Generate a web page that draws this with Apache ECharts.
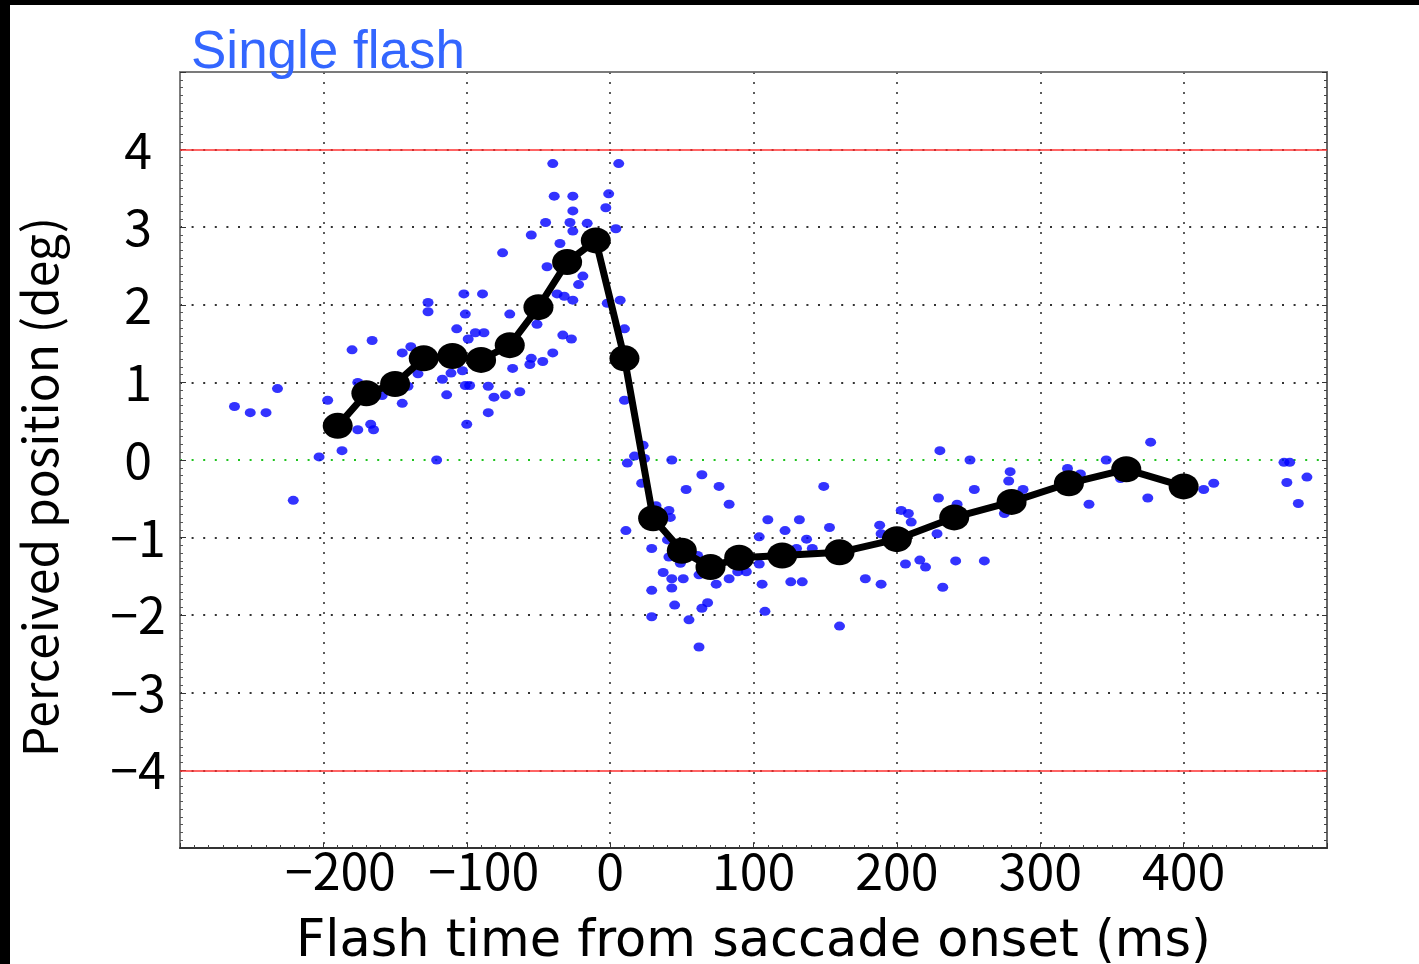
<!DOCTYPE html>
<html>
<head>
<meta charset="utf-8">
<script src="https://cdn.jsdelivr.net/npm/echarts@6/dist/echarts.min.js"></script>
<style>
html,body{margin:0;padding:0;background:#fff;}
#chart{width:1419px;height:964px;}
</style>
</head>
<body>
<div id="chart"></div>
<script>
// ---- Data ----
const titleText = 'Single flash';
const xAxisTitle = 'Flash time from saccade onset (ms)';
const yAxisTitle = 'Perceived position (deg)';

// Mean curve (black)
const meanX = [-190,-170,-150,-130,-110,-90,-70,-50,-30,-10,10,30,50,70,90,120,160,200,240,280,320,360,400];
const meanY = [0.44,0.86,0.98,1.31,1.34,1.29,1.48,1.97,2.55,2.83,1.31,-0.75,-1.17,-1.38,-1.26,-1.23,-1.19,-1.02,-0.74,-0.54,-0.30,-0.12,-0.34];

// Individual trials (blue)
const trialX = [
  -262,-251,-240,-232,-221,-203,-197,-187,-176,-167,-165,-176,-180,-166,-159,-145,-139,-145,-134,-141,
  -127,-127,-121,-117,-114,-111,-107,-103,-102,-101,-99,-94,-88,-101,-98,-100,-89,-85,-81,-73,-85,-70,-68,-63,
  -40,-39,-26,-26,-45,-28,-26,-16,-55,-35,-75,-44,-19,-22,-37,-32,-26,-51,-33,-27,-40,-55,-56,-47,
  -1,-3,6,4,7,-2,10,10,
  23,17,24,12,43,22,64,53,76,83,32,41,42,11,29,40,41,49,37,43,43,51,61,62,74,29,29,45,55,64,68,62,
  83,89,95,104,104,106,108,110,122,132,137,130,141,126,134,149,153,160,
  178,189,188,189,203,208,210,206,216,220,230,229,242,228,232,241,261,251,254,279,278,288,275,
  319,328,334,346,356,377,375,414,421,470,474,472,486,480
];
const trialY = [
  0.69,0.61,0.61,0.92,-0.52,0.04,0.77,0.12,0.39,0.46,0.39,1.00,1.42,1.54,0.83,1.38,1.46,0.73,1.11,0.95,
  2.03,1.91,0.00,1.04,0.84,1.12,1.69,1.15,2.14,1.88,1.56,1.64,1.64,0.96,0.96,0.46,2.14,0.95,0.81,0.84,0.61,1.88,1.18,0.88,
  3.82,3.40,3.40,3.21,3.06,3.06,2.95,3.05,2.90,2.79,2.67,2.49,2.37,2.26,2.14,2.11,2.06,1.75,1.61,1.56,1.38,1.31,1.23,1.27,
  3.43,3.25,3.82,2.98,2.06,2.02,1.69,0.77,
  0.19,0.05,0.02,-0.04,0.00,-0.30,-0.19,-0.38,-0.34,-0.57,-0.59,-0.65,-0.74,-0.91,-1.14,-1.03,-1.25,-1.33,-1.45,-1.53,-1.65,-1.53,-1.23,-1.48,-1.60,-1.68,-2.02,-1.87,-2.06,-1.91,-1.84,-2.41,
  -1.53,-1.44,-1.44,-0.99,-1.34,-1.60,-1.95,-0.77,-0.91,-0.77,-1.02,-1.14,-1.14,-1.57,-1.57,-0.34,-0.87,-2.14,
  -1.53,-1.60,-0.84,-0.95,-0.65,-0.69,-0.80,-1.34,-1.29,-1.38,0.12,-0.49,-0.57,-0.95,-1.64,-1.30,-1.30,0.00,-0.38,-0.15,-0.27,-0.38,-0.69,
  -0.11,-0.18,-0.57,0.00,-0.24,0.23,-0.49,-0.38,-0.30,-0.03,-0.03,-0.29,-0.22,-0.56
];

// Axis settings
const xMin = -300, xMax = 500, xStep = 100;
const yMin = -5, yMax = 5, yStep = 1;
const limitLines = [4, -4];

const trialData = trialX.map((x, i) => [x, trialY[i]]);
const meanData = meanX.map((x, i) => [x, meanY[i]]);

const minus = v => (v < 0 ? '\u2212' + Math.abs(v) : String(v));
const xFmt = v => (v < 0 ? '{n|' + minus(v) + '}' : '{p|' + v + '}');
const labelFont = '"Noto Sans CJK JP", "Noto Sans", sans-serif';

// splitLine colours for y: -5..5 ; 0 is green, edges hidden
const yLineColors = [];
for (let v = yMin; v <= yMax; v += yStep) {
  if (v === yMin || v === yMax) yLineColors.push('rgba(0,0,0,0)');
  else if (v === 0) yLineColors.push('#1fc41f');
  else yLineColors.push('#333');
}
const xLineColors = [];
for (let v = xMin; v <= xMax; v += xStep) {
  if (v === xMin || v === xMax) xLineColors.push('rgba(0,0,0,0)');
  else xLineColors.push('#333');
}

const chart = echarts.init(document.getElementById('chart'), null, {renderer: 'canvas'});
chart.setOption({
  animation: false,
  backgroundColor: '#fff',
  title: {
    text: titleText,
    left: 186, top: 22,
    textStyle: {color: '#3366ff', fontSize: 53, fontWeight: 'normal', fontFamily: '"Liberation Sans", Arial, sans-serif'}
  },
  graphic: [
    {type: 'rect', left: 0, top: 0, shape: {width: 1419, height: 5}, style: {fill: '#000'}, silent: true},
    {type: 'rect', left: 0, top: 0, shape: {width: 10, height: 964}, style: {fill: '#000'}, silent: true}
  ],
  grid: {left: 180, top: 72, right: 92, bottom: 116, outerBoundsMode: 'none', containLabel: false,
    show: true, borderColor: '#666', borderWidth: 1.5, backgroundColor: 'transparent'},
  xAxis: [{
    type: 'value', min: xMin, max: xMax, interval: xStep,
    axisLine: {show: true, onZero: false, lineStyle: {color: '#333', width: 2}},
    axisTick: {show: true, inside: true, length: 5, lineStyle: {color: '#333'}},
    minorTick: {show: true, splitNumber: 10, length: 3, lineStyle: {color: '#444'}},
    axisLabel: {
      showMinLabel: false, showMaxLabel: false, formatter: xFmt, margin: -2,
      rich: {
        n: {fontSize: 50, color: '#000', fontFamily: labelFont, padding: [0, 0, 0, 34]},
        p: {fontSize: 50, color: '#000', fontFamily: labelFont}
      }
    },
    splitLine: {show: true, lineStyle: {color: xLineColors, width: 1.6, type: [2, 8]}},
    name: xAxisTitle, nameLocation: 'middle', nameGap: 69,
    nameTextStyle: {fontSize: 51, color: '#000', fontFamily: '"DejaVu Sans", sans-serif'}
  }, {
    type: 'value', min: xMin, max: xMax, interval: xStep, position: 'top',
    axisLine: {show: true, onZero: false, lineStyle: {color: '#777', width: 1.5}},
    axisTick: {show: false},
    minorTick: {show: false},
    axisLabel: {show: false}, splitLine: {show: false}
  }],
  yAxis: [{
    type: 'value', min: yMin, max: yMax, interval: yStep,
    axisLine: {show: true, onZero: false, lineStyle: {color: '#777', width: 1.5}},
    axisTick: {show: true, inside: true, length: 6, lineStyle: {color: '#333'}},
    minorTick: {show: true, splitNumber: 10, length: 3, lineStyle: {color: '#555'}},
    axisLabel: {showMinLabel: false, showMaxLabel: false, formatter: minus, fontSize: 50, color: '#000',
      align: 'center', margin: 42, padding: [11, 0, 0, 0], fontFamily: labelFont},
    splitLine: {show: true, lineStyle: {color: yLineColors, width: 1.8, type: [2, 9.6]}},
    name: yAxisTitle, nameLocation: 'middle', nameGap: 116,
    nameTextStyle: {fontSize: 48, color: '#000', fontFamily: labelFont, padding: [0, 54, 0, 0]}
  }, {
    type: 'value', min: yMin, max: yMax, interval: yStep, position: 'right',
    axisLine: {show: true, onZero: false, lineStyle: {color: '#666', width: 2}},
    axisTick: {show: true, inside: true, length: 5, lineStyle: {color: '#333'}},
    minorTick: {show: true, splitNumber: 10, length: 3, lineStyle: {color: '#444'}},
    axisLabel: {show: false}, splitLine: {show: false}
  }],
  series: [{
    type: 'scatter',
    data: trialData,
    symbol: 'circle',
    symbolSize: [11, 9],
    itemStyle: {color: '#0000ff'},
    markLine: {
      silent: true, symbol: 'none', animation: false,
      label: {show: false},
      lineStyle: {color: '#ff3030', width: 1.5, type: 'solid'},
      data: limitLines.map(v => ({yAxis: v}))
    },
    z: 2
  }, {
    type: 'line',
    data: meanData,
    symbol: 'circle',
    symbolSize: [30, 26],
    showAllSymbol: true,
    lineStyle: {color: '#000', width: 7},
    itemStyle: {color: '#000'},
    z: 3
  }]
});
</script>
</body>
</html>
